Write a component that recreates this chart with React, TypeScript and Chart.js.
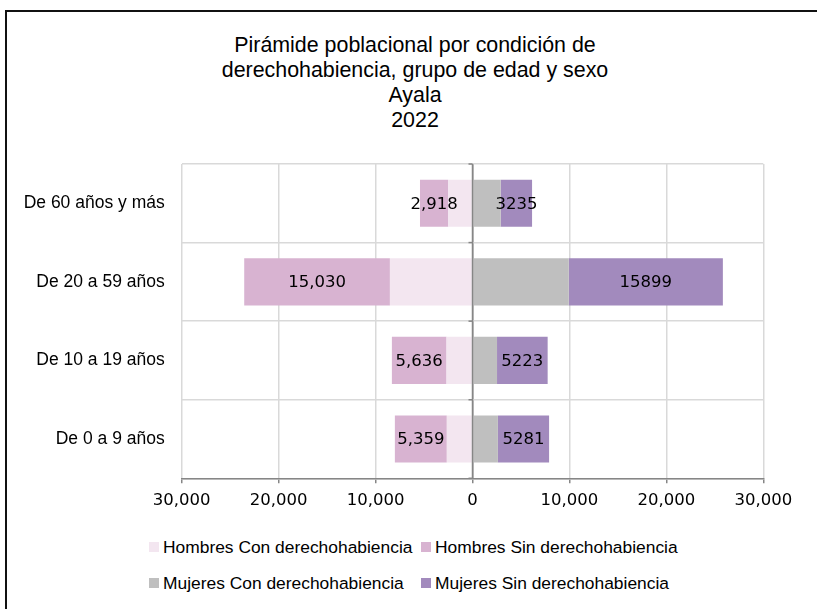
import React, { useEffect, useRef } from "react";
import { Chart, registerables } from "chart.js";

Chart.register(...registerables);

const categories = ["De 60 años y más", "De 20 a 59 años", "De 10 a 19 años", "De 0 a 9 años"];
const hombresCon = [2500, 8520, 2680, 2650];
const hombresSin = [2918, 15030, 5636, 5359];
const mujeresCon = [2910, 9930, 2530, 2620];
const mujeresSin = [3235, 15899, 5223, 5281];
const seriesNames = [
  "Hombres Con derechohabiencia",
  "Hombres Sin derechohabiencia",
  "Mujeres Con derechohabiencia",
  "Mujeres Sin derechohabiencia",
];
const seriesColors = ["#F3E6F0", "#D8B3D1", "#BFBFBF", "#A28ABD"];
const titleLines = [
  "Pirámide poblacional por condición de",
  "derechohabiencia, grupo de edad y sexo",
  "Ayala",
  "2022",
];
const xMin = -30000;
const xMax = 30000;
const xStep = 10000;

const NUM_FONT = '16.5px "DejaVu Sans"';
const AXIS_DARK = "#868686";
const GRID_LIGHT = "#D9D9D9";

const fmtComma = (v: number) => Math.abs(v).toLocaleString("en-US");

const overlayPlugin = {
  id: "overlay",
  afterDatasetsDraw(chart: any) {
    const { ctx, chartArea, scales } = chart;
    const x0 = scales.x.getPixelForValue(0);
    ctx.save();
    // zero axis line drawn over bars
    ctx.strokeStyle = AXIS_DARK;
    ctx.lineWidth = 1.5;
    ctx.beginPath();
    ctx.moveTo(x0, chartArea.top);
    ctx.lineTo(x0, chartArea.bottom);
    ctx.stroke();
    // small category tick marks on the zero axis
    for (let i = 0; i <= categories.length; i++) {
      const y = scales.y.getPixelForValue(i - 0.5);
      ctx.beginPath();
      ctx.moveTo(x0 - 4, y);
      ctx.lineTo(x0, y);
      ctx.stroke();
    }
    // data labels
    ctx.font = NUM_FONT;
    ctx.fillStyle = "#000";
    ctx.textAlign = "center";
    ctx.textBaseline = "middle";
    [1, 3].forEach((di) => {
      const meta = chart.getDatasetMeta(di);
      meta.data.forEach((bar: any, j: number) => {
        const v = chart.data.datasets[di].data[j] as number;
        const text = di === 1 ? fmtComma(v) : String(Math.abs(v));
        ctx.fillText(text, (bar.x + bar.base) / 2, bar.y + 1);
      });
    });
    ctx.restore();
  },
};

export default function App() {
  const canvasRef = useRef<HTMLCanvasElement | null>(null);

  useEffect(() => {
    const canvas = canvasRef.current;
    if (!canvas) return;
    const chart = new Chart(canvas, {
      type: "bar",
      data: {
        labels: categories,
        datasets: [
          { label: seriesNames[0], data: hombresCon.map((v) => -v), backgroundColor: seriesColors[0] },
          { label: seriesNames[1], data: hombresSin.map((v) => -v), backgroundColor: seriesColors[1] },
          { label: seriesNames[2], data: mujeresCon, backgroundColor: seriesColors[2] },
          { label: seriesNames[3], data: mujeresSin, backgroundColor: seriesColors[3] },
        ],
      },
      options: {
        indexAxis: "y",
        responsive: false,
        animation: false,
        devicePixelRatio: 1,
        layout: { padding: { top: 34, right: 53.7, bottom: 0, left: 0 } },
        datasets: { bar: { barPercentage: 1, categoryPercentage: 0.6, borderWidth: 0 } },
        plugins: { legend: { display: false }, title: { display: false }, tooltip: { enabled: false } },
        scales: {
          x: {
            stacked: true,
            min: xMin,
            max: xMax,
            afterFit: (s: any) => {
              s.height = 51.7;
            },
            afterBuildTicks: (s: any) => {
              const t = [];
              for (let v = xMin; v <= xMax; v += xStep) t.push({ value: v });
              s.ticks = t;
            },
            ticks: {
              color: "#000",
              font: { family: "DejaVu Sans", size: 16.5 },
              padding: 8,
              maxRotation: 0,
              autoSkip: false,
              callback: (v: any) => fmtComma(Number(v)),
            },
            grid: {
              color: (c: any) => (c.tick && c.tick.value === 0 ? AXIS_DARK : GRID_LIGHT),
              lineWidth: 1.5,
              tickLength: 5,
              tickColor: AXIS_DARK,
            },
            border: { display: true, color: AXIS_DARK, width: 1.5 },
          },
          y: {
            stacked: true,
            afterFit: (s: any) => {
              s.width = 174.7;
            },
            ticks: {
              color: "#000",
              font: { family: "Liberation Sans", size: 17.5 },
              padding: 17,
            },
            grid: { color: GRID_LIGHT, lineWidth: 1.5, drawTicks: false, offset: true },
            border: { display: false },
          },
        },
      },
      plugins: [overlayPlugin],
    });
    return () => chart.destroy();
  }, []);

  const legendPos = [
    { x: 149, y: 547 },
    { x: 421, y: 547 },
    { x: 149, y: 583 },
    { x: 421, y: 583 },
  ];

  return (
    <div>
      <div
        style={{
          position: "absolute",
          left: 5,
          top: 10,
          width: 812,
          height: 599,
          borderTop: "2px solid #111",
          borderLeft: "2px solid #111",
          boxSizing: "border-box",
        }}
      />
      <div
        style={{
          position: "absolute",
          left: 0,
          top: 32.5,
          width: 830,
          textAlign: "center",
          fontFamily: '"Liberation Sans", Arial, sans-serif',
          fontSize: 21.4,
          lineHeight: "25px",
          color: "#000",
        }}
      >
        {titleLines.map((l, i) => (
          <div key={i}>{l}</div>
        ))}
      </div>
      <canvas
        ref={canvasRef}
        width={810}
        height={400}
        style={{ position: "absolute", left: 7, top: 130, width: 810, height: 400 }}
      />
      {seriesNames.map((name, i) => (
        <div
          key={name}
          style={{
            position: "absolute",
            left: legendPos[i].x,
            top: legendPos[i].y - 12,
            height: 24,
            display: "flex",
            alignItems: "center",
            fontFamily: '"Liberation Sans", Arial, sans-serif',
            fontSize: 17.4,
            color: "#000",
            whiteSpace: "nowrap",
          }}
        >
          <span
            style={{ display: "inline-block", width: 10, height: 10, background: seriesColors[i], marginRight: 4 }}
          />
          <span>{name}</span>
        </div>
      ))}
    </div>
  );
}
